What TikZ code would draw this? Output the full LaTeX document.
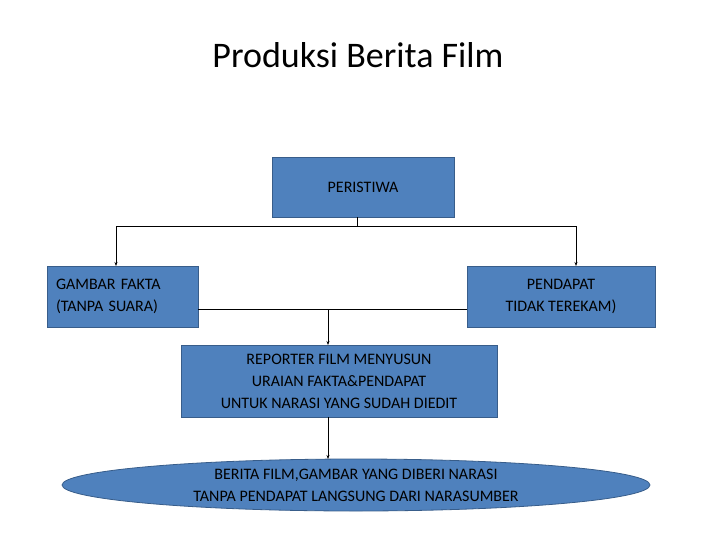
\documentclass[tikz,border=0pt]{standalone}
\usepackage{fontspec}
\setmainfont{Carlito}
\usetikzlibrary{shapes.geometric,arrows.meta}
\begin{document}
\begin{tikzpicture}[x=1pt,y=-1pt,
  bx/.style={draw={rgb,255:red,56;green,93;blue,138},line width=0.8pt,fill={rgb,255:red,79;green,129;blue,189},inner sep=0pt,font=\fontsize{16}{22}\selectfont,align=center},
  ar/.style={-{Stealth[length=4pt,width=3pt]},line width=0.6pt}]
\useasboundingbox (0,0) rectangle (728,546);
\node[font=\fontsize{36}{40}\selectfont] (t) at (358,55) {Produksi Berita Film};
\node[bx,minimum width=182pt,minimum height=60pt] (p) at (363,187) {PERISTIWA};
\node[bx,minimum width=151pt,minimum height=61pt,align=left,text width=133pt] (g) at (122.5,296.5) {GAMBAR FAKTA\\(TANPA SUARA)};
\node[bx,minimum width=188pt,minimum height=61pt] (d) at (561,296.5) {PENDAPAT\\TIDAK TEREKAM)};
\node[bx,minimum width=316pt,minimum height=72pt] (r) at (339,381) {REPORTER FILM MENYUSUN\\URAIAN FAKTA\&PENDAPAT\\UNTUK NARASI YANG SUDAH DIEDIT};
\node[bx,ellipse,minimum width=588pt,minimum height=52pt] (e) at (356,485) {BERITA FILM,GAMBAR YANG DIBERI NARASI\\TANPA PENDAPAT LANGSUNG DARI NARASUMBER};
\coordinate (j1) at (357,226);
\draw[line width=0.6pt] (p.south -| j1) -- (j1);
\draw[ar] (j1) -| (116,266);
\draw[ar] (j1) -| (576,266);
\draw[line width=0.6pt] (g.east |- 0,309) -- (d.west |- 0,309);
\draw[ar] (328,309) -- (328,345);
\draw[ar] (328,417) -- (328,459);
\end{tikzpicture}
\end{document}
